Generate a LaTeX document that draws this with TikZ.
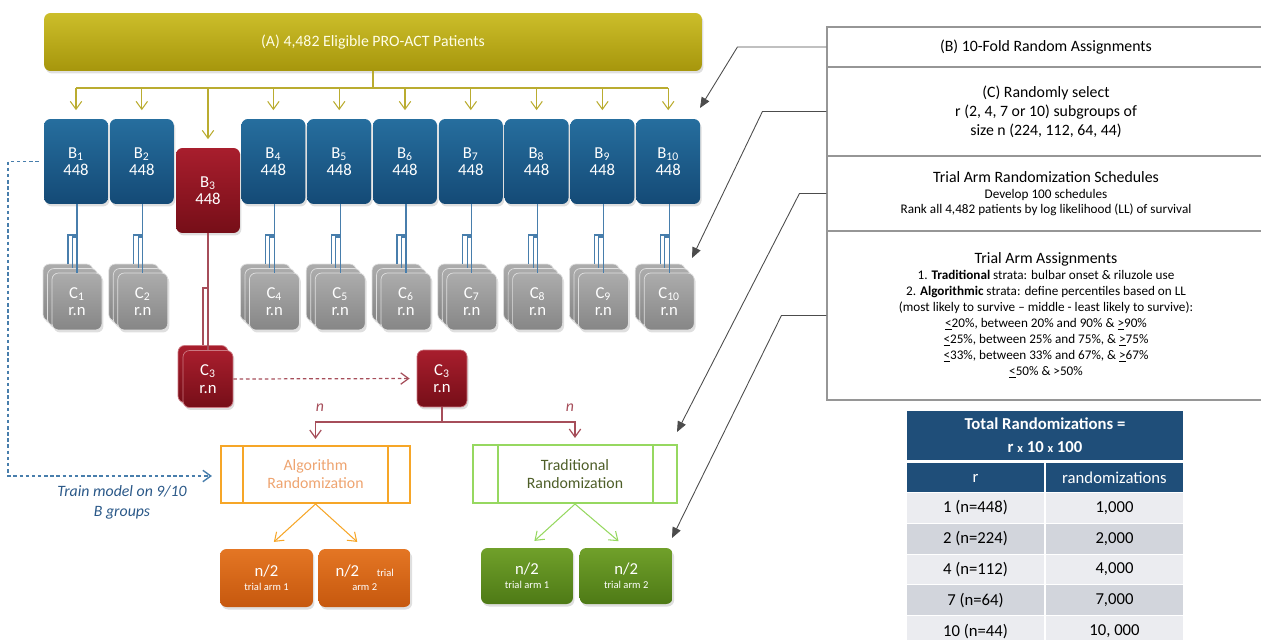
\documentclass[tikz,border=0pt]{standalone}
\usepackage{fontspec}
\setmainfont{Carlito}
\usetikzlibrary{arrows.meta,positioning,shadows}

\definecolor{olivetop}{RGB}{204,190,42}
\definecolor{olivebot}{RGB}{166,150,12}
\definecolor{oliveline}{RGB}{186,172,48}
\definecolor{bluetop}{RGB}{38,110,158}
\definecolor{bluebot}{RGB}{20,74,118}
\definecolor{blueline}{RGB}{72,126,172}
\definecolor{redtop}{RGB}{168,30,45}
\definecolor{redbot}{RGB}{118,14,24}
\definecolor{redline}{RGB}{166,78,90}
\definecolor{graytop}{RGB}{172,172,172}
\definecolor{graybot}{RGB}{134,134,134}
\definecolor{algline}{RGB}{246,166,40}
\definecolor{algtext}{RGB}{238,164,112}
\definecolor{tradline}{RGB}{150,216,96}
\definecolor{tradtext}{RGB}{78,94,40}
\definecolor{orangetop}{RGB}{228,118,36}
\definecolor{orangebot}{RGB}{198,88,14}
\definecolor{greentop}{RGB}{112,160,42}
\definecolor{greenbot}{RGB}{78,122,22}
\definecolor{trainblue}{RGB}{42,88,136}
\definecolor{panelline}{RGB}{150,150,150}
\definecolor{tabhead}{RGB}{31,78,121}
\definecolor{tablight}{RGB}{235,236,240}
\definecolor{tabdark}{RGB}{210,213,220}

\begin{document}
\begin{tikzpicture}[x=0.02cm,y=-0.02cm,
  >={Straight Barb[length=4.5pt,width=6.5pt]},
  box/.style={rounded corners=0.13cm,align=center,text=white,inner sep=1pt,
    drop shadow={opacity=0.25,shadow xshift=0.03cm,shadow yshift=-0.05cm}},
  fold/.style={box,minimum width=1.28cm,minimum height=1.7cm,top color=bluetop,bottom color=bluebot,font=\fontsize{9.5}{9.6}\selectfont},
  foldheld/.style={fold,top color=redtop,bottom color=redbot},
  sub/.style={box,minimum width=1cm,minimum height=1.14cm,draw=white!75!gray,top color=graytop,bottom color=graybot,font=\fontsize{9.5}{10}\selectfont},
  subheld/.style={sub,draw=redtop!60!white,top color=redtop,bottom color=redbot},
  randbox/.style={draw,line width=1.2pt,minimum height=1.14cm,align=center,font=\fontsize{9}{10.2}\selectfont},
  arm/.style={box,minimum height=1.16cm,font=\fontsize{9.5}{7.8}\selectfont},
  panel/.style={draw=panelline,line width=0.7pt,minimum width=8.76cm,align=center,inner sep=0pt},
  cell/.style={draw=white,line width=0.6pt,minimum width=2.78cm,minimum height=0.62cm,inner sep=0pt,font=\fontsize{9.5}{11}\selectfont},
  olink/.style={draw=oliveline,line width=0.6pt},
  blink/.style={draw=blueline,line width=0.6pt},
  rlink/.style={draw=redline,line width=0.7pt},
  note/.style={draw=black!70,line width=0.5pt,-{Triangle[length=6pt,width=5pt]}}]
\useasboundingbox (0,0) rectangle (1261,639);
\clip (0,0) rectangle (1261,639);

% (A) all patients
\node[box,minimum width=13.16cm,minimum height=1.16cm,top color=olivetop,bottom color=olivebot,
  text=white!90!yellow,font=\fontsize{9}{11}\selectfont] (A) at (373,42) {(A) 4,482 Eligible PRO-ACT Patients};

% B folds and C subgroups
\foreach \i in {1,2,4,5,...,10} {
  \node[fold] (B\i) at ({76+65.8*(\i-1)},161.5) {B\textsubscript{\i}\\448};
  \node[sub] (Cc\i) at ({77+65.8*(\i-1)-9},292.5) {};
  \node[sub] (Cb\i) at ({77+65.8*(\i-1)-4.5},297) {};
  \node[sub] (C\i) at ({77+65.8*(\i-1)},301.5) {C\textsubscript{\i}\\r.n};
  \draw[blink] (C\i.north) -- (C\i.north |- B\i.south);
  \draw[blink] (C\i.north |- 0,235) -| (Cc\i.north);
  \draw[blink] (C\i.north |- 0,237) -| (Cb\i.north);
}
\node[foldheld] (B3) at (208,190.5) {B\textsubscript{3}\\448};
\node[subheld] (Cb3) at (203,374) {};
\node[subheld] (C3) at (208,379) {C\textsubscript{3}\\r.n};
\node[subheld] (C3r) at (442,378.5) {C\textsubscript{3}\\r.n};
\draw[rlink] (C3.north) -- (C3.north |- B3.south);
\draw[rlink] (C3.north |- 0,288) -| (Cb3.north);
\draw[rlink,->,dash pattern=on 2pt off 1.6pt,shorten >=0.14cm] (C3.east) -- (C3r.west);

% olive split
\draw[olink] (A.south) -- (A.south |- 0,88);
\draw[olink] (B1.north |- 0,88) -- (B10.north |- 0,88);
\foreach \i in {1,...,10}
  \draw[olink,->,shorten >=0.17cm] (B\i.north |- 0,88) -- (B\i.north);

% randomization
\node[randbox,draw=algline,text=algtext,minimum width=3.78cm] (alg) at (315.5,474.5) {Algorithm\\Randomization};
\node[randbox,draw=tradline,text=tradtext,minimum width=4.08cm,minimum height=1.16cm] (trad) at (575,474) {Traditional\\Randomization};
\draw[algline,line width=1.2pt] ([xshift=0.46cm]alg.north west) -- ([xshift=0.46cm]alg.south west);
\draw[algline,line width=1.2pt] ([xshift=-0.46cm]alg.north east) -- ([xshift=-0.46cm]alg.south east);
\draw[tradline,line width=1.2pt] ([xshift=0.52cm]trad.north west) -- ([xshift=0.52cm]trad.south west);
\draw[tradline,line width=1.2pt] ([xshift=-0.5cm]trad.north east) -- ([xshift=-0.5cm]trad.south east);
\draw[rlink,->,shorten >=0.12cm] (C3r.south) -- (C3r.south |- 0,422) -| (alg.north);
\draw[rlink,->,shorten >=0.12cm] (C3r.south) -- (C3r.south |- 0,422) -| (trad.north);
\node[text=redline,font=\fontsize{9}{10}\selectfont\itshape] (nalg) at (320,408) {n};
\node[text=redline,font=\fontsize{9}{10}\selectfont\itshape] (ntrad) at (570,408) {n};

% trial arms
\node[arm,top color=orangetop,bottom color=orangebot,minimum width=1.86cm] (arm1) at (266.5,578) {n/2\\{\fontsize{6}{7}\selectfont trial arm 1}};
\node[arm,top color=orangetop,bottom color=orangebot,minimum width=1.84cm,right=0.1cm of arm1] (arm2) {n/2\hspace{10pt}{\fontsize{6}{7}\selectfont trial}\\{\fontsize{6}{7}\selectfont arm 2}};
\node[arm,top color=greentop,bottom color=greenbot,minimum width=1.84cm,minimum height=1.12cm] (arm3) at (527,576) {n/2\\{\fontsize{6}{7}\selectfont trial arm 1}};
\node[arm,top color=greentop,bottom color=greenbot,minimum width=1.86cm,minimum height=1.12cm,right=0.12cm of arm3] (arm4) {n/2\\{\fontsize{6}{7}\selectfont trial arm 2}};
\draw[algline,line width=0.6pt,->,shorten >=0.2cm] (alg.south) -- (arm1.north);
\draw[algline,line width=0.6pt,->,shorten >=0.2cm] (alg.south) -- (arm2.north);
\draw[tradline,line width=0.6pt,->,shorten >=0.2cm] (trad.south) -- (arm3.north);
\draw[tradline,line width=0.6pt,->,shorten >=0.2cm] (trad.south) -- (arm4.north);

% training path
\coordinate (bend) at (8,476);
\draw[blueline,line width=0.8pt,dash pattern=on 2pt off 1.5pt,->,shorten >=0.16cm] ([xshift=-0.1cm]B1.west) -| (bend) -- (bend -| alg.west);
\node[text=trainblue,align=center,font=\fontsize{9}{11.3}\selectfont\itshape] (train) at (122,502) {Train model on 9/10\\B groups};

% notes on the right
\node[panel,minimum height=0.8cm,font=\fontsize{9}{11}\selectfont] (panelB) at (1046,47) {(B) 10-Fold Random Assignments};
\node[panel,minimum height=1.78cm,font=\fontsize{9}{10.8}\selectfont] (panelC) at (1046,111.5) {(C) Randomly select\\r (2, 4, 7 or 10) subgroups of\\size n (224, 112, 64, 44)};
\node[panel,minimum height=1.5cm,font=\fontsize{7.5}{8.6}\selectfont] (panelS) at (1046,193.5)
  {{\fontsize{9}{11}\selectfont Trial Arm Randomization Schedules}\\[0.8pt]Develop 100 schedules\\Rank all 4,482 patients by log likelihood (LL) of survival};
\node[panel,minimum height=3.38cm,font=\fontsize{7.5}{9.1}\selectfont] (panelT) at (1046,315.5)
  {{\fontsize{9}{11}\selectfont Trial Arm Assignments}\\
   1. \textbf{Traditional} strata: bulbar onset \& riluzole use\\
   2. \textbf{Algorithmic} strata: define percentiles based on LL\\
   (most likely to survive \textendash{} middle - least likely to survive):\\
   \underline{<}20\%, between 20\% and 90\% \& \underline{>}90\%\\
   \underline{<}25\%, between 25\% and 75\%, \& \underline{>}75\%\\
   \underline{<}33\%, between 33\% and 67\%, \& \underline{>}67\%\\
   \underline{<}50\% \& >50\%};
\coordinate (tipB) at (700,108);
\coordinate (tipC) at (692,258);
\coordinate (tipS) at (677,432);
\coordinate (tipT) at (672,538);
\draw[note] (panelB.west) -- ++(-89,0) -- (tipB);
\draw[note] (panelC.west) -- ++(-64,0) -- (tipC);
\draw[note] (panelS.west) -- ++(-27,0) -- (tipS);
\draw[note] (panelT.west) -- ++(-45,0) -- (tipT);

% table
\node[cell,minimum width=5.56cm,minimum height=1.02cm,fill=tabhead,text=white,align=center,font=\fontsize{9.5}{13}\selectfont\bfseries] (total) at (1045,435.5)
  {Total Randomizations =\\r {\fontsize{7}{8}\selectfont x} 10 {\fontsize{7}{8}\selectfont x} 100};
\node[cell,fill=tabhead,text=white] (hr) at (975.5,478) {r};
\node[cell,fill=tabhead,text=white] (hn) at (1114.5,478) {randomizations};
\node[cell,fill=tablight] (r1) at (975.5,508) {1 (n=448)};
\node[cell,fill=tablight] (v1) at (1114.5,508) {1,000};
\node[cell,fill=tabdark] (r2) at (975.5,538.8) {2 (n=224)};
\node[cell,fill=tabdark] (v2) at (1114.5,538.8) {2,000};
\node[cell,fill=tablight] (r4) at (975.5,569.6) {4 (n=112)};
\node[cell,fill=tablight] (v4) at (1114.5,569.6) {4,000};
\node[cell,fill=tabdark] (r7) at (975.5,600.4) {7 (n=64)};
\node[cell,fill=tabdark] (v7) at (1114.5,600.4) {7,000};
\node[cell,fill=tablight] (r10) at (975.5,631.2) {10 (n=44)};
\node[cell,fill=tablight] (v10) at (1114.5,631.2) {10, 000};
\end{tikzpicture}
\end{document}
